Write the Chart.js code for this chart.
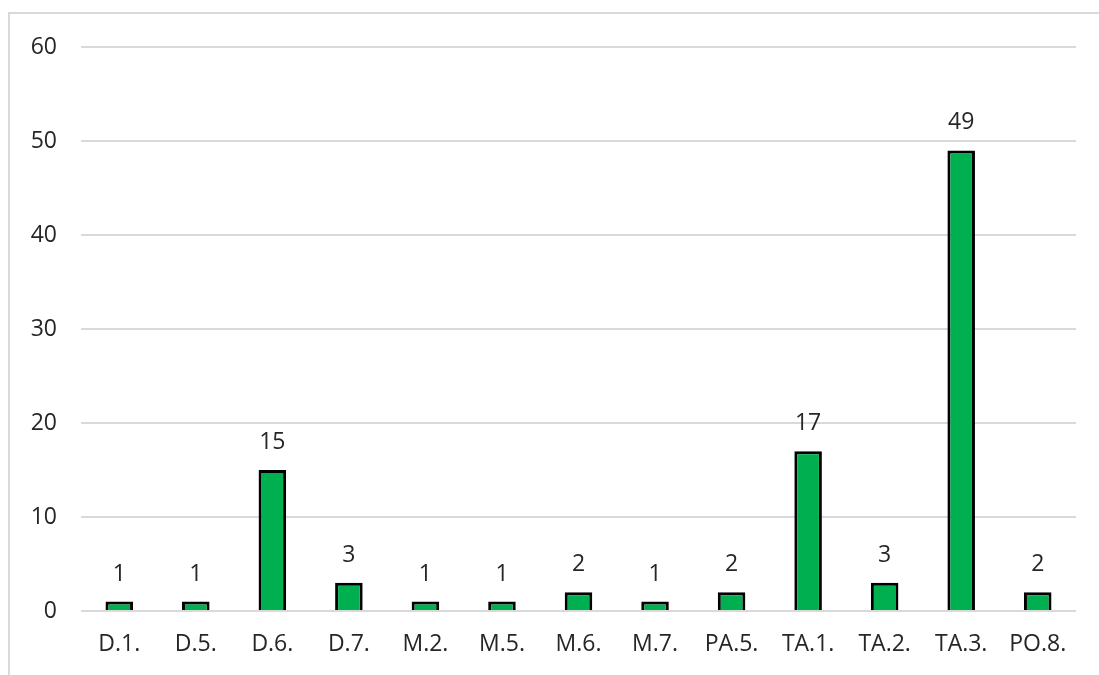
<!DOCTYPE html>
<html>
<head>
<meta charset="utf-8">
<script src="https://cdn.jsdelivr.net/npm/chart.js@4/dist/chart.umd.min.js"></script>
<style>
    html, body { margin: 0; padding: 0; background: #ffffff; }
    #wrap { width: 1099px; height: 675px; position: relative; }
</style>
</head>
<body>
<div id="wrap"><canvas id="barChart"></canvas></div>
<script>
const categories = ['D.1.', 'D.5.', 'D.6.', 'D.7.', 'M.2.', 'M.5.', 'M.6.', 'M.7.', 'PA.5.', 'TA.1.', 'TA.2.', 'TA.3.', 'PO.8.'];
const counts = [1, 1, 15, 3, 1, 1, 2, 1, 2, 17, 3, 49, 2];
const yTicks = [0, 10, 20, 30, 40, 50, 60];

const fontFamily = '"Open Sans", "Liberation Sans", sans-serif';

// light frame on the top and left, like the original export
const framePlugin = {
    id: 'frame',
    beforeDraw(chart) {
        const ctx = chart.ctx;
        ctx.save();
        ctx.strokeStyle = '#d9d9d9';
        ctx.lineWidth = 2;
        ctx.beginPath();
        ctx.moveTo(9, 675);
        ctx.lineTo(9, 13);
        ctx.lineTo(1099, 13);
        ctx.stroke();
        ctx.restore();
    }
};

// value labels above each bar
const valueLabels = {
    id: 'valueLabels',
    afterDatasetsDraw(chart) {
        const ctx = chart.ctx;
        const meta = chart.getDatasetMeta(0);
        ctx.save();
        ctx.font = '23px ' + fontFamily;
        ctx.fillStyle = '#262626';
        ctx.textAlign = 'center';
        ctx.textBaseline = 'alphabetic';
        meta.data.forEach((bar, i) => {
            ctx.fillText(String(counts[i]), bar.x, bar.y - 21);
        });
        ctx.restore();
    }
};

const ctx = document.getElementById('barChart').getContext('2d');
const barChart = new Chart(ctx, {
    type: 'bar',
    data: {
        labels: categories,
        datasets: [{
            data: counts,
            backgroundColor: '#00b050',
            borderColor: '#000000',
            borderWidth: 3,
            barPercentage: 0.36,
            categoryPercentage: 1
        }]
    },
    options: {
        responsive: true,
        maintainAspectRatio: false,
        animation: false,
        layout: {
            padding: { top: 47, right: 23, bottom: 0, left: 0 }
        },
        plugins: {
            legend: { display: false },
            tooltip: { enabled: false }
        },
        scales: {
            x: {
                grid: { display: false, drawTicks: false },
                border: { display: false },
                ticks: {
                    color: '#262626',
                    font: { family: fontFamily, size: 23 },
                    padding: 20,
                    maxRotation: 0
                },
                afterFit(scale) { scale.height = 64; }
            },
            y: {
                min: 0,
                max: 60,
                afterBuildTicks(scale) {
                    scale.ticks = yTicks.map(v => ({ value: v }));
                },
                grid: { color: '#d9d9d9', lineWidth: 2, drawTicks: false },
                border: { display: false },
                ticks: {
                    color: '#262626',
                    font: { family: fontFamily, size: 23 },
                    padding: 24
                },
                afterFit(scale) { scale.width = 81; }
            }
        }
    },
    plugins: [framePlugin, valueLabels]
});
</script>
</body>
</html>
